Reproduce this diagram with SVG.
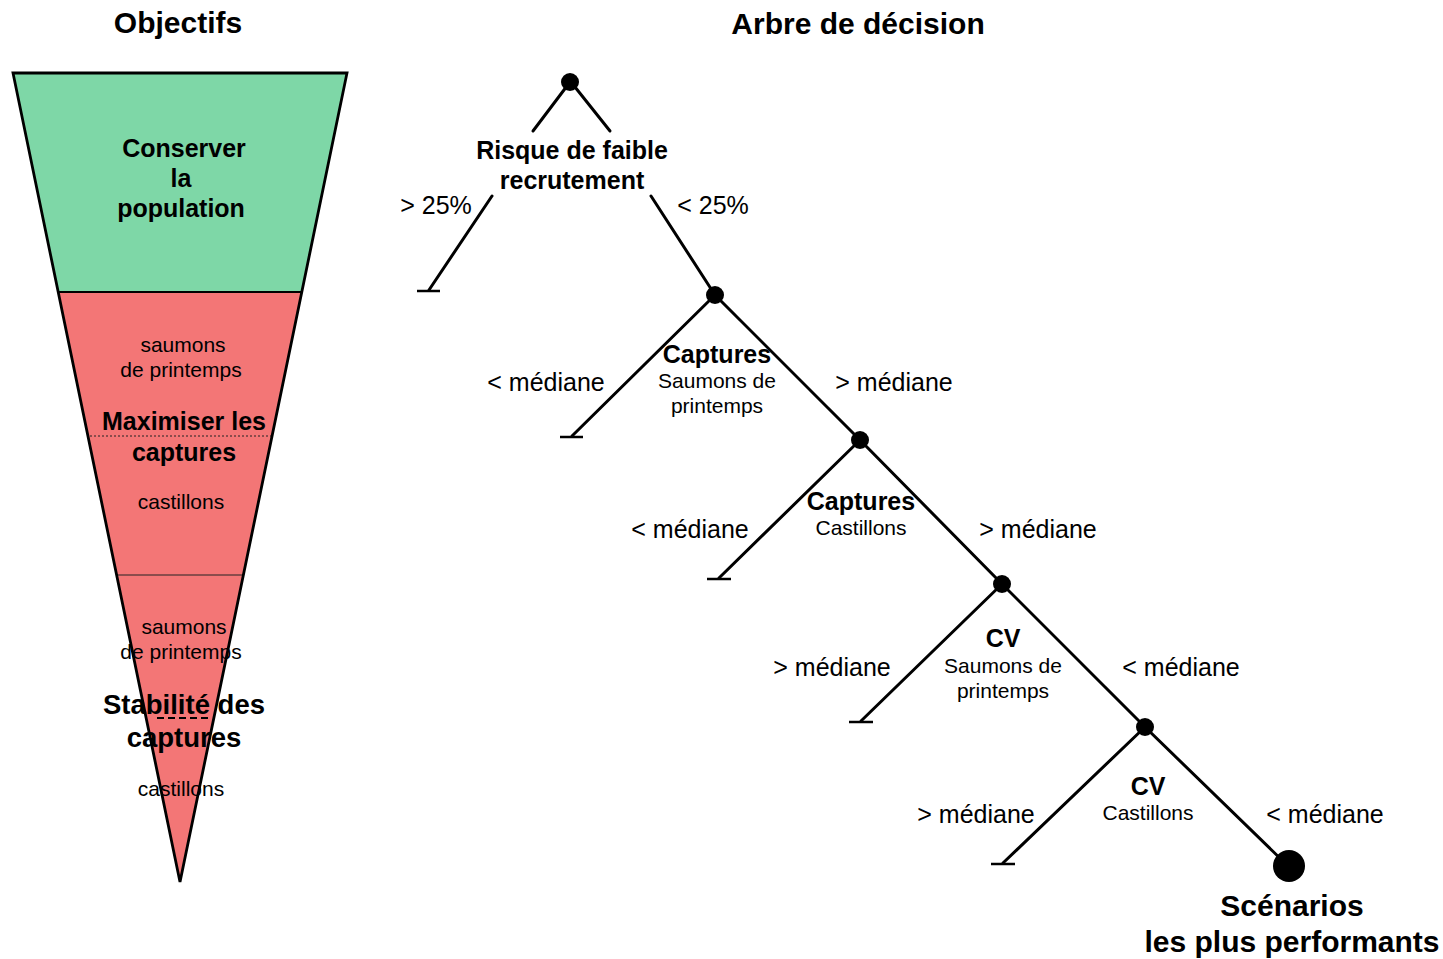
<svg xmlns="http://www.w3.org/2000/svg" width="1443" height="959" viewBox="0 0 1443 959">
<style>
text{font-family:"Liberation Sans",Arial,sans-serif;fill:#000;text-anchor:middle}
.b{font-weight:bold;font-size:25px}
.b2{font-weight:bold;font-size:27.5px}
.t{font-weight:bold;font-size:30px}
.r{font-size:25px}
.s{font-size:21px}
.ln{stroke:#000;stroke-width:3;fill:none;stroke-linecap:round}
.bar{stroke:#000;stroke-width:2.5;fill:none}
</style>
<rect width="1443" height="959" fill="#fff"/>
<g id="titles">
<text class="t" x="178" y="33">Objectifs</text>
<text class="t" x="858" y="34">Arbre de décision</text>
</g>
<g id="funnel">
<polygon points="13,73 347,73 302,292 58,292" fill="#7ED7A7"/>
<polygon points="58,292 302,292 180,882" fill="#F37676"/>
<line x1="58" y1="292" x2="302" y2="292" stroke="#000" stroke-width="2"/>
<line x1="117" y1="575" x2="243" y2="575" stroke="#222" stroke-width="1"/>
<line x1="90" y1="436" x2="271" y2="436" stroke="#222" stroke-width="1" stroke-dasharray="2,2"/>
<line x1="157" y1="718" x2="212" y2="718" stroke="#000" stroke-width="2" stroke-dasharray="7,4"/>
<polygon points="13,73 347,73 180,882" fill="none" stroke="#000" stroke-width="2.8" stroke-linejoin="miter"/>
</g>
<g id="obj-conserver">
<text class="b" x="184" y="157">Conserver</text>
<text class="b" x="181" y="187">la</text>
<text class="b" x="181" y="217">population</text>
</g>
<g id="obj-maximiser">
<text class="s" x="183" y="352">saumons</text>
<text class="s" x="181" y="377">de printemps</text>
<text class="b" x="184" y="430">Maximiser les</text>
<text class="b" x="184" y="461">captures</text>
<text class="s" x="181" y="509">castillons</text>
</g>
<g id="obj-stabilite">
<text class="s" x="184" y="634">saumons</text>
<text class="s" x="181" y="659">de printemps</text>
<text class="b2" x="184" y="714">Stabilité des</text>
<text class="b2" x="184" y="747">captures</text>
<text class="s" x="181" y="796">castillons</text>
</g>
<g id="connectors">
<line class="ln" x1="570" y1="82" x2="533" y2="131"/>
<line class="ln" x1="571" y1="82" x2="610" y2="131"/>
<line class="ln" x1="492" y1="196" x2="429" y2="290"/>
<line class="bar" x1="417" y1="291" x2="440" y2="291"/>
<line class="ln" x1="651" y1="196" x2="715" y2="295"/>
<line class="ln" x1="715" y1="295" x2="572" y2="436"/>
<line class="bar" x1="560" y1="437" x2="583" y2="437"/>
<line class="ln" x1="715" y1="295" x2="860" y2="440"/>
<line class="ln" x1="860" y1="440" x2="719" y2="578"/>
<line class="bar" x1="707" y1="579" x2="731" y2="579"/>
<line class="ln" x1="860" y1="440" x2="1002" y2="584"/>
<line class="ln" x1="1002" y1="584" x2="861" y2="721"/>
<line class="bar" x1="849" y1="722" x2="873" y2="722"/>
<line class="ln" x1="1002" y1="584" x2="1145" y2="727"/>
<line class="ln" x1="1145" y1="727" x2="1003" y2="863"/>
<line class="bar" x1="991" y1="864" x2="1015" y2="864"/>
<line class="ln" x1="1145" y1="727" x2="1288" y2="866"/>
</g>
<g id="node-risque">
<circle cx="570" cy="82" r="9"/>
<text class="b" x="572" y="159">Risque de faible</text>
<text class="b" x="572" y="189">recrutement</text>
<text class="r" x="436" y="214">&gt; 25%</text>
<text class="r" x="713" y="214">&lt; 25%</text>
</g>
<g id="node-captures-saumons">
<circle cx="715" cy="295" r="9"/>
<text class="b" x="717" y="363">Captures</text>
<text class="s" x="717" y="388">Saumons de</text>
<text class="s" x="717" y="413">printemps</text>
<text class="r" x="546" y="391">&lt; médiane</text>
<text class="r" x="894" y="391">&gt; médiane</text>
</g>
<g id="node-captures-castillons">
<circle cx="860" cy="440" r="9"/>
<text class="b" x="861" y="510">Captures</text>
<text class="s" x="861" y="535">Castillons</text>
<text class="r" x="690" y="538">&lt; médiane</text>
<text class="r" x="1038" y="538">&gt; médiane</text>
</g>
<g id="node-cv-saumons">
<circle cx="1002" cy="584" r="9"/>
<text class="b" x="1003" y="647">CV</text>
<text class="s" x="1003" y="673">Saumons de</text>
<text class="s" x="1003" y="698">printemps</text>
<text class="r" x="832" y="676">&gt; médiane</text>
<text class="r" x="1181" y="676">&lt; médiane</text>
</g>
<g id="node-cv-castillons">
<circle cx="1145" cy="727" r="9"/>
<text class="b" x="1148" y="795">CV</text>
<text class="s" x="1148" y="820">Castillons</text>
<text class="r" x="976" y="823">&gt; médiane</text>
<text class="r" x="1325" y="823">&lt; médiane</text>
</g>
<g id="node-scenarios">
<circle cx="1289" cy="866" r="16"/>
<text class="t" x="1292" y="916">Scénarios</text>
<text class="t" x="1292" y="952">les plus performants</text>
</g>
</svg>
